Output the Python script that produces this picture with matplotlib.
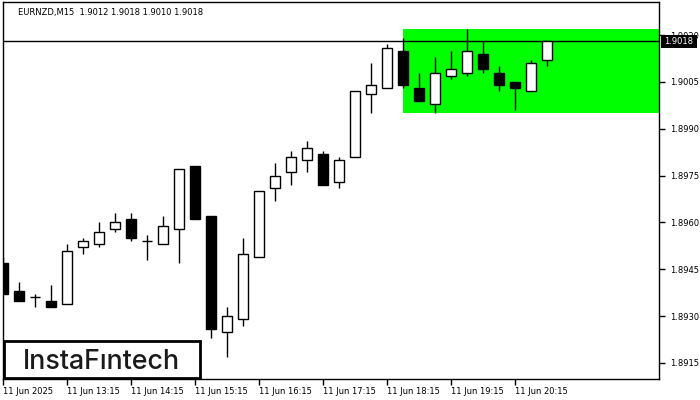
import matplotlib
matplotlib.use("Agg")
import matplotlib.pyplot as plt
from matplotlib.patches import Rectangle
import numpy as np

plt.rcParams['font.family'] = ['DejaVu Sans']

symbol_title = "EURNZD,M15  1.9012 1.9018 1.9010 1.9018"

opens  = [1.8947, 1.8938, 1.8936, 1.8935, 1.8934, 1.8952, 1.8953, 1.8958, 1.8961, 1.8954,
          1.8953, 1.8958, 1.8978, 1.8962, 1.8925, 1.8929, 1.8949, 1.8971, 1.8976, 1.8980,
          1.8982, 1.8973, 1.8981, 1.9001, 1.9003, 1.9015, 1.9003, 1.8998, 1.9007, 1.9008,
          1.9014, 1.9008, 1.9005, 1.9002, 1.9012]
highs  = [1.8949, 1.8941, 1.8937, 1.8940, 1.8953, 1.8955, 1.8960, 1.8963, 1.8963, 1.8956,
          1.8962, 1.8977, 1.8978, 1.8962, 1.8933, 1.8955, 1.8970, 1.8979, 1.8983, 1.8986,
          1.8983, 1.8981, 1.9002, 1.9011, 1.9017, 1.9019, 1.9008, 1.9013, 1.9015, 1.9022,
          1.9018, 1.9010, 1.9005, 1.9012, 1.9018]
lows   = [1.8937, 1.8935, 1.8933, 1.8933, 1.8934, 1.8950, 1.8952, 1.8957, 1.8954, 1.8948,
          1.8953, 1.8947, 1.8961, 1.8923, 1.8917, 1.8927, 1.8949, 1.8967, 1.8972, 1.8976,
          1.8972, 1.8971, 1.8981, 1.8995, 1.9003, 1.9003, 1.8999, 1.8995, 1.9006, 1.9007,
          1.9008, 1.9002, 1.8996, 1.9002, 1.9010]
closes = [1.8937, 1.8935, 1.8936, 1.8933, 1.8951, 1.8954, 1.8957, 1.8960, 1.8955, 1.8954,
          1.8959, 1.8977, 1.8961, 1.8926, 1.8930, 1.8950, 1.8970, 1.8975, 1.8981, 1.8984,
          1.8972, 1.8980, 1.9002, 1.9004, 1.9016, 1.9004, 1.8999, 1.9008, 1.9009, 1.9015,
          1.9009, 1.9004, 1.9003, 1.9011, 1.9018]

x_tick_idx = [0, 4, 8, 12, 16, 20, 24, 28, 32]
x_tick_labels = ["11 Jun 2025", "11 Jun 13:15", "11 Jun 14:15", "11 Jun 15:15",
                 "11 Jun 16:15", "11 Jun 17:15", "11 Jun 18:15", "11 Jun 19:15",
                 "11 Jun 20:15"]
y_ticks = [1.8915, 1.8930, 1.8945, 1.8960, 1.8975, 1.8990, 1.9005, 1.9020]
y_tick_labels = ["1.8915", "1.8930", "1.8945", "1.8960", "1.8975", "1.8990", "1.9005", "1.9020"]

rect_start = 25
rect_low = 1.8995
rect_high = 1.9022
last_price = 1.9018
last_price_label = "1.9018"
logo_text = "InstaF\u0131ntech"

W, H = 700, 400
fig = plt.figure(figsize=(7, 4), dpi=100)
ax = fig.add_axes([3 / W, 1 - 379 / H, 656 / W, 377 / H])
ax.set_xlim(0, 41)
ax.set_ylim(1.890987, 1.90306)

# green pattern rectangle
ax.add_patch(Rectangle((rect_start, rect_low), 41 - rect_start, rect_high - rect_low,
                       facecolor='#00FF00', edgecolor='none', zorder=1))

# current price line
ax.axhline(last_price, color='black', lw=1, zorder=2)

idx = np.arange(len(opens))
o = np.array(opens); h = np.array(highs); l = np.array(lows); c = np.array(closes)
bw = 0.62
ax.vlines(idx, l, h, color='black', lw=1, zorder=3)
for i in idx:
    if abs(c[i] - o[i]) < 1e-9:
        ax.hlines(o[i], i - bw / 2, i + bw / 2, color='black', lw=1, zorder=4)
    else:
        fc = 'white' if c[i] > o[i] else 'black'
        ax.add_patch(Rectangle((i - bw / 2, min(o[i], c[i])), bw, abs(c[i] - o[i]),
                               facecolor=fc, edgecolor='black', lw=1, zorder=4))

for s in ax.spines.values():
    s.set_color('black'); s.set_linewidth(1)

ax.set_xticks(x_tick_idx)
ax.set_xticklabels(x_tick_labels)
for lbl in ax.get_xticklabels():
    lbl.set_ha('left')
ax.yaxis.tick_right()
ax.set_yticks(y_ticks)
ax.set_yticklabels(y_tick_labels)
ax.tick_params(axis='x', direction='out', length=4, width=1, labelsize=6, pad=2, colors='black')
ax.tick_params(axis='y', direction='out', length=4, width=1, labelsize=6, pad=4, colors='black')

# title
fig.text(18 / W, 1 - 12 / H, symbol_title, fontsize=6, va='center', ha='left', color='black')

# last price box (covers the top tick label, as in the reference)
fig.patches.append(Rectangle((661 / W, 1 - 48 / H), 36 / W, 13 / H, transform=fig.transFigure,
                             facecolor='black', edgecolor='none', zorder=10))
fig.text(679 / W, 1 - 41.5 / H, last_price_label, fontsize=6, color='white',
         ha='center', va='center', zorder=11)

# logo
fig.patches.append(Rectangle((4 / W, 1 - 377.5 / H), 196 / W, 37 / H, transform=fig.transFigure,
                             facecolor='white', edgecolor='black', lw=2, zorder=10))
logo = fig.text(101.5 / W, 1 - 369 / H, logo_text, fontsize=18, color='#1a1a1a',
                family=['Inter', 'DejaVu Sans'], fontweight='medium',
                ha='center', va='baseline', zorder=11)
fig.canvas.draw()
ext = logo.get_window_extent(renderer=fig.canvas.get_renderer())
if ext.width > 0:
    logo.set_fontsize(18 * 157.0 / ext.width)

fig.savefig('out.png', dpi=100)
